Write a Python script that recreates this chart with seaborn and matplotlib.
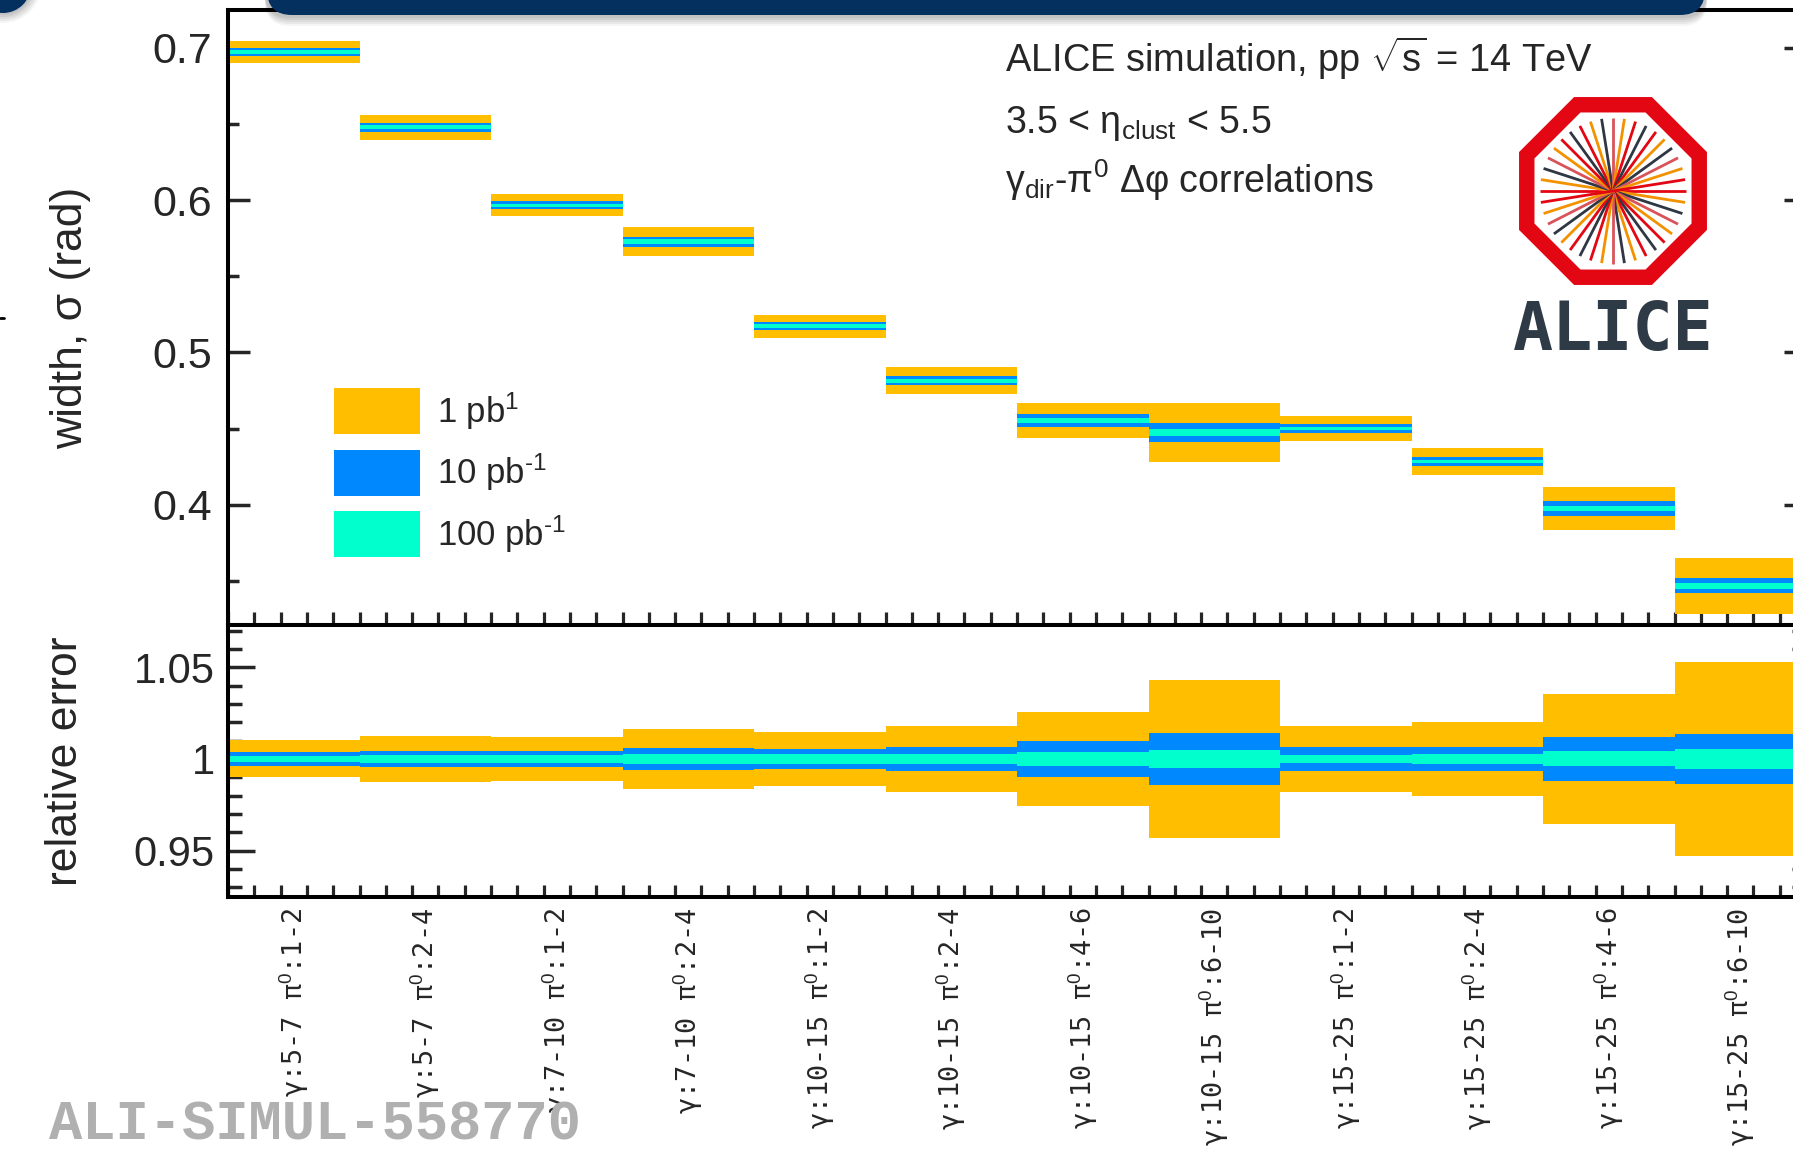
import numpy as np
import pandas as pd
import matplotlib
matplotlib.use("Agg")
import matplotlib.pyplot as plt
import seaborn as sns
from matplotlib.patches import Patch, RegularPolygon, FancyBboxPatch, Circle
from matplotlib.ticker import FixedLocator, MultipleLocator, FormatStrFormatter

# ---------------- data ----------------
categories = [
    "γ:5-7 π$^{0}$:1-2", "γ:5-7 π$^{0}$:2-4", "γ:7-10 π$^{0}$:1-2", "γ:7-10 π$^{0}$:2-4",
    "γ:10-15 π$^{0}$:1-2", "γ:10-15 π$^{0}$:2-4", "γ:10-15 π$^{0}$:4-6", "γ:10-15 π$^{0}$:6-10",
    "γ:15-25 π$^{0}$:1-2", "γ:15-25 π$^{0}$:2-4", "γ:15-25 π$^{0}$:4-6", "γ:15-25 π$^{0}$:6-10",
]
width_sigma = [0.6972, 0.6477, 0.5965, 0.5727, 0.5172, 0.4814,
               0.4554, 0.4474, 0.4503, 0.4286, 0.3976, 0.3470]
rel_err_1pb = [0.0101, 0.0127, 0.0122, 0.0163, 0.0149, 0.0182,
               0.0259, 0.0429, 0.0182, 0.0204, 0.0356, 0.0530]
rel_err_10pb = [0.0037, 0.0046, 0.0044, 0.0058, 0.0053, 0.0063,
                0.0098, 0.0142, 0.0065, 0.0068, 0.0118, 0.0139]
rel_err_100pb = [0.0018, 0.0022, 0.0020, 0.0026, 0.0025, 0.0025,
                 0.0036, 0.0049, 0.0024, 0.0025, 0.0041, 0.0052]
lumi_labels = ["1 pb$^{1}$", "10 pb$^{\\text{-}1}$", "100 pb$^{\\text{-}1}$"]
band_colors = ["#FFBE00", "#0088FF", "#00FFCC"]

# ---------------- style ----------------
sns.set_style("ticks")
plt.rcParams["font.family"] = ["Liberation Sans", "DejaVu Sans"]
plt.rcParams["mathtext.fontset"] = "custom"
plt.rcParams["mathtext.rm"] = "Liberation Sans"
plt.rcParams["mathtext.it"] = "Liberation Sans:italic"
plt.rcParams["mathtext.bf"] = "Liberation Sans:bold"
plt.rcParams["mathtext.sf"] = "Liberation Sans"
plt.rcParams["axes.linewidth"] = 2.9
plt.rcParams["axes.edgecolor"] = "black"

W, H = 1793, 1152
fig = plt.figure(figsize=(W / 100, H / 100), dpi=100)
fig.patch.set_facecolor("white")

left_px, right_px = 228, 1806
ax_top = fig.add_axes([left_px / W, 1 - 625 / H, (right_px - left_px) / W, 615 / H])
ax_bot = fig.add_axes([left_px / W, 1 - 897 / H, (right_px - left_px) / W, 272 / H])

sig = np.asarray(width_sigma)
rels = [np.asarray(r) for r in (rel_err_1pb, rel_err_10pb, rel_err_100pb)]

for rel, col in zip(rels, band_colors):
    sns.barplot(x=categories, y=2 * rel * sig, bottom=sig * (1 - rel), order=categories,
                color=col, width=1, saturation=1, errorbar=None, linewidth=0, ax=ax_top)
    sns.barplot(x=categories, y=2 * rel, bottom=1 - rel, order=categories,
                color=col, width=1, saturation=1, errorbar=None, linewidth=0, ax=ax_bot)

for ax in (ax_top, ax_bot):
    ax.set_xlim(-0.5, len(categories) - 0.5)
    ax.set_xlabel("")
    ax.xaxis.set_minor_locator(FixedLocator(np.arange(-0.5, len(categories) - 0.49, 0.2)))
    for s in ax.spines.values():
        s.set_visible(True)
        s.set_linewidth(2.9)

# upper panel
ax_top.set_ylim(0.3213, 0.7246)
ax_top.yaxis.set_major_locator(MultipleLocator(0.1))
ax_top.yaxis.set_minor_locator(MultipleLocator(0.05))
ax_top.yaxis.set_major_formatter(FormatStrFormatter("%g"))
ax_top.tick_params(axis="y", which="major", direction="in", length=15.8, width=2.5,
                   left=True, right=True, labelsize=31, pad=11.5)
ax_top.tick_params(axis="y", which="minor", direction="in", length=7.9, width=2.5,
                   left=True, right=True)
ax_top.tick_params(axis="x", which="major", length=0, labelbottom=False, bottom=False, top=False)
ax_top.tick_params(axis="x", which="minor", direction="in", length=9.4, width=2.3,
                   bottom=True, top=False)
ax_top.set_ylabel("width, σ (rad)", fontsize=32)
ax_top.yaxis.set_label_coords((82 - left_px) / (right_px - left_px), 0.5)
ax_top.yaxis.label.set_verticalalignment("baseline")

# lower panel
ax_bot.set_ylim(0.9246, 1.0732)
ax_bot.yaxis.set_major_locator(MultipleLocator(0.05))
ax_bot.yaxis.set_minor_locator(MultipleLocator(0.01))
ax_bot.yaxis.set_major_formatter(FormatStrFormatter("%g"))
ax_bot.tick_params(axis="y", which="major", direction="in", length=19.4, width=2.5,
                   left=True, right=True, labelsize=30, pad=9.4)
ax_bot.tick_params(axis="y", which="minor", direction="in", length=10, width=2.5,
                   left=True, right=True)
ax_bot.tick_params(axis="x", which="major", length=0, pad=7.5, bottom=True, top=False)
ax_bot.tick_params(axis="x", which="minor", direction="in", length=8.6, width=2.3,
                   bottom=True, top=False)
ax_bot.set_xticks(range(len(categories)))
ax_bot.set_xticklabels(categories)
for lab in ax_bot.get_xticklabels():
    lab.set_rotation(90)
    lab.set_fontfamily(["DejaVu Sans Mono", "DejaVu Sans"])
    lab.set_fontsize(19.4)
    lab.set_horizontalalignment("center")
    lab.set_verticalalignment("top")
ax_bot.set_ylabel("relative error", fontsize=32)
ax_bot.yaxis.set_label_coords((77.5 - left_px) / (right_px - left_px), 0.5)
ax_bot.yaxis.label.set_verticalalignment("baseline")

# legend
handles = [Patch(facecolor=c, edgecolor="none", label=l) for c, l in zip(band_colors, lumi_labels)]
ax_top.legend(handles=handles, loc="upper left",
              bbox_to_anchor=((334 - left_px) / (right_px - left_px), (625 - 388) / 615),
              frameon=False, fontsize=25, handlelength=2.48, handleheight=1.66,
              handletextpad=0.49, labelspacing=0.45, borderpad=0, borderaxespad=0)

# ---------------- decorations (pixel overlay) ----------------
ov = fig.add_axes([0, 0, 1, 1], zorder=10)
ov.set_xlim(0, W)
ov.set_ylim(H, 0)
ov.axis("off")
ov.patch.set_alpha(0)

navy = "#04305F"
for k, a in enumerate([0.06, 0.06, 0.05, 0.05, 0.04]):
    ov.add_patch(FancyBboxPatch((267 - 2, -60), 1705 - 267 + 4, 75 + 3 + 2 * k,
                                boxstyle="round,pad=0,rounding_size=25",
                                fc="black", ec="none", alpha=a))
    ov.add_patch(Circle((3, -15), 28 + 2 + 2 * k, fc="black", ec="none", alpha=a))
ov.add_patch(FancyBboxPatch((267, -60), 1705 - 267, 75,
                            boxstyle="round,pad=0,rounding_size=25", fc=navy, ec="none"))
ov.add_patch(Circle((3, -15), 28, fc=navy, ec="none"))
ov.plot([0, 4], [318, 318], color="black", lw=2)

# header text
ov.text(1005, 72, r"ALICE simulation, pp $\sqrt{\mathrm{s}}$ = 14 TeV", fontsize=27.4,
        ha="left", va="baseline")
ov.text(1005, 133, r"3.5 < η$_{\mathrm{clust}}$ < 5.5", fontsize=27, ha="left", va="baseline")
ov.text(1005, 193, r"γ$_{\mathrm{dir}}$-π$^{0}$ Δφ correlations", fontsize=27,
        ha="left", va="baseline")

# ALICE logo
cx, cy = 1613, 191
ov.add_patch(RegularPolygon((cx, cy), numVertices=8, radius=101.7, orientation=np.pi / 8,
                            fc="#E30613", ec="none"))
ov.add_patch(RegularPolygon((cx, cy), numVertices=8, radius=85.0, orientation=np.pi / 8,
                            fc="white", ec="none"))
spoke_cols = ["#E30613", "#F39200", "#2E3743", "#D9535B", "#F39200", "#E30613", "#2E3743"]
for i, ang in enumerate(np.deg2rad(np.arange(0, 180, 9))):
    dx, dy = 73 * np.cos(ang), 73 * np.sin(ang)
    ov.plot([cx - dx, cx + dx], [cy - dy, cy + dy], color=spoke_cols[i % len(spoke_cols)],
            lw=2.0, solid_capstyle="butt")
ov.text(cx, 350, "ALICE", fontsize=48, fontfamily="DejaVu Sans Mono", fontweight="bold",
        color="#2E3A46", ha="center", va="baseline")

# watermark
ov.text(49, 1140, "ALI-SIMUL-558770", fontsize=40, fontfamily="Liberation Mono",
        fontweight="bold", color="#B0B0B0", ha="left", va="baseline")

fig.savefig("out.png", dpi=100)
